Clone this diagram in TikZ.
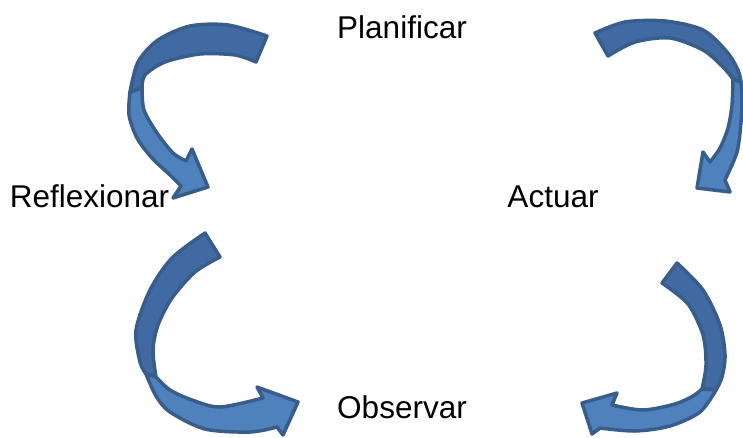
\documentclass[tikz,border=0pt]{standalone}
\usepackage{fontspec}
\setmainfont{Liberation Sans}
\usepackage{tikz}
\usetikzlibrary{arrows}

\definecolor{bandlight}{RGB}{79,129,189}
\definecolor{banddark}{RGB}{66,106,162}
\definecolor{bandline}{RGB}{56,93,138}

\begin{document}
\begin{tikzpicture}[x=1pt,y=-1pt,line join=round,line width=3.5pt]
\tikzstyle{every node}=[inner sep=0pt,anchor=base,text=black]
\tikzset{font=\fontsize{31.5pt}{36pt}\selectfont}
\tikzset{darkband/.style={fill=banddark,draw=bandline},
         lightband/.style={fill=bandlight,draw=bandline}}

        \useasboundingbox (0,0) rectangle (743,437);

        \node                (P)   at (402,38)          {Planificar};
        \node                (A)   at (553,207)         {Actuar};
        \node                (O)   at (402,418)         {Observar};
        \node                (R)   at (89.5,207)        {Reflexionar};

        % Planificar -> Reflexionar
        \path[darkband] (267,36) -- plot[smooth] coordinates {(267,36) (228,25) (190,26) (158,40) (138,62) (130,92)}
              -- plot[smooth] coordinates {(142,88) (145,75) (165,62) (200,54) (235,55) (256,62)} -- cycle;
        \path[lightband] (130,92) -- plot[smooth] coordinates {(130,92) (129,115) (137,138) (152,158) (170,175) (181,186)}
              -- (173,198) -- (208,187) -- (192,149) -- (186,161)
              -- plot[smooth] coordinates {(186,161) (173,153) (157,133) (144,110) (142,88)} -- cycle;

        % Planificar -> Actuar
        \path[darkband] (595,33) -- plot[smooth] coordinates {(595,33) (625,22) (665,21) (703,30) (727,52) (738,70) (741,82)}
              -- plot[smooth] coordinates {(733,79) (723,67) (703,50) (670,38) (635,42) (608,56)} -- cycle;
        \path[lightband] (741,82) -- plot[smooth] coordinates {(741,82) (742,100) (741,122) (737,152) (725,180)}
              -- (730,192) -- (697,188) -- (703,152) -- (710,162)
              -- plot[smooth] coordinates {(710,162) (720,148) (728,128) (732,105) (733,79)} -- cycle;

        % Reflexionar -> Observar
        \path[darkband] (205,233) -- plot[smooth] coordinates {(205,233) (172,258) (150,290) (136,330) (140,362) (146,374)}
              -- plot[smooth] coordinates {(156,377) (153,350) (158,325) (172,298) (195,272) (220,257)} -- cycle;
        \path[lightband] (146,374) -- plot[smooth] coordinates {(146,374) (156,396) (170,412) (205,429) (250,432) (277,427)}
              -- (283,435) -- (298,402) -- (257,387) -- (263,398)
              -- plot[smooth] coordinates {(263,398) (220,407) (192,400) (170,390) (156,377)} -- cycle;

        % Observar -> Actuar
        \path[darkband] (677,263) -- plot[smooth] coordinates {(677,263) (703,290) (720,325) (725,355) (722,377) (716,390)}
              -- plot[smooth] coordinates {(702,389) (706,365) (703,335) (688,304) (662,283)} -- cycle;
        \path[lightband] (716,390) -- plot[smooth] coordinates {(716,390) (700,412) (670,426) (635,431) (600,428)}
              -- (592,434) -- (582,403) -- (617,393) -- (612,405)
              -- plot[smooth] coordinates {(612,405) (643,410) (675,404) (693,396) (702,389)} -- cycle;

\end{tikzpicture}
\end{document}
